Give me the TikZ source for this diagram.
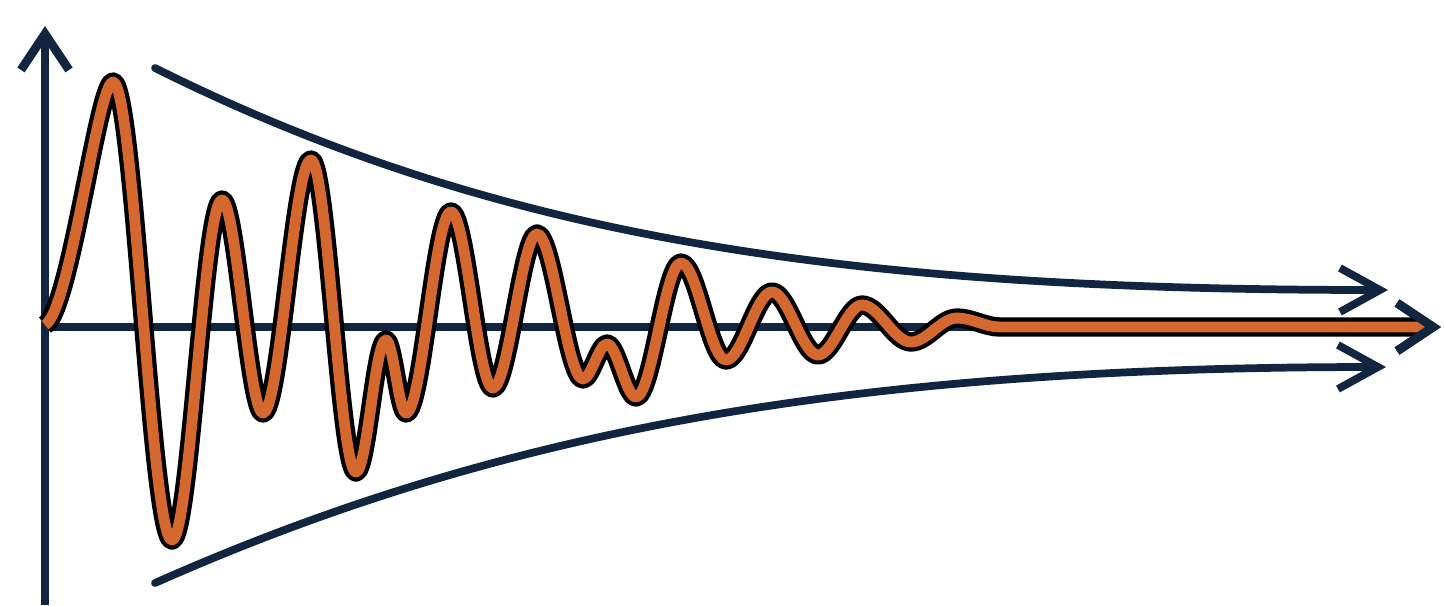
\documentclass[tikz,border=0pt]{standalone}
\usetikzlibrary{arrows.meta}

\definecolor{navy}{RGB}{17,37,64}
\definecolor{waveorange}{RGB}{212,104,46}

\begin{document}
\begin{tikzpicture}[
        x=0.01cm, y=-0.01cm,
        axis/.style={draw=navy, line width=2.5pt, -{Straight Barb[length=3.6mm, width=4.8mm]}},
        envelope/.style={draw=navy, line width=2.2pt, line cap=round, -{Straight Barb[length=4mm, width=4.4mm]}},
        wave/.style={draw=black, line width=1.2pt, double=waveorange, double distance=3.1pt, line join=round}
    ]
        \useasboundingbox (0,0) rectangle (1444,605);

        % axes
        \coordinate (origin) at (45,327);
        \coordinate (ytip) at (45,26);
        \coordinate (ybase) at (45,605);
        \coordinate (xtip) at (1441,327);
        \draw[axis] (ybase) -- (ytip);
        \draw[axis] (origin) -- (xtip);

        % decay envelope
        \coordinate (upstart) at (155,68);
        \coordinate (upend) at (1388,290);
        \coordinate (lostart) at (155,583);
        \coordinate (loend) at (1386,367);
        \draw[envelope] (upstart) .. controls (500,240) and (850,290) .. (upend);
        \draw[envelope] (lostart) .. controls (500,430) and (850,367) .. (loend);

        % damped oscillation
        \draw[wave] (45,325) .. controls (70,312) and (98,82) .. (113,82)
            .. controls +(21,0) and +(-21,0) .. (172,540)
            .. controls +(18,0) and +(-18,0) .. (222,200)
            .. controls +(14,0) and +(-14,0) .. (263,413)
            .. controls +(17,0) and +(-17,0) .. (311,160)
            .. controls +(16,0) and +(-16,0) .. (356,472)
            .. controls +(11,0) and +(-11,0) .. (386,340)
            .. controls +(7,0) and +(-7,0) .. (406,413)
            .. controls +(16,0) and +(-16,0) .. (451,212)
            .. controls +(15,0) and +(-15,0) .. (493,388)
            .. controls +(15,0) and +(-15,0) .. (537,234)
            .. controls +(16,0) and +(-16,0) .. (583,379)
            .. controls +(8,0) and +(-8,0) .. (607,344)
            .. controls +(10,0) and +(-10,0) .. (636,397)
            .. controls +(16,0) and +(-16,0) .. (681,263)
            .. controls +(16,0) and +(-16,0) .. (726,360)
            .. controls +(16,0) and +(-16,0) .. (772,292)
            .. controls +(16,0) and +(-16,0) .. (818,355)
            .. controls +(15,0) and +(-15,0) .. (862,305)
            .. controls +(17,0) and +(-17,0) .. (911,342)
            .. controls +(16,0) and +(-16,0) .. (957,318)
            .. controls +(15,0) and +(-15,0) .. (1000,327)
            -- (1425,327);

        % tip of the time axis over the wave
        \draw[axis] (1425,327) -- (xtip);
    \end{tikzpicture}
\end{document}
